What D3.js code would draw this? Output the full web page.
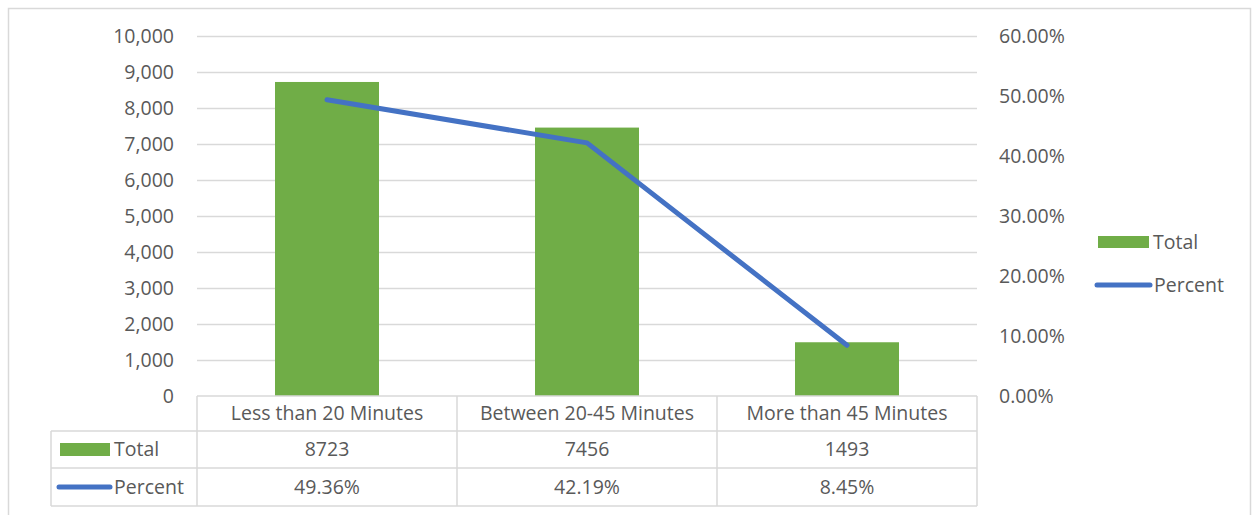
<!DOCTYPE html>
<html><head><meta charset="utf-8">
<script src="https://cdn.jsdelivr.net/npm/d3@7"></script>
<style>body{margin:0;background:#fff}svg{display:block}text{font-family:"Open Sans",sans-serif;fill:#595959}</style>
</head><body><svg id="c" width="1252" height="515"></svg>
<script>
const categories = ["Less than 20 Minutes", "Between 20-45 Minutes", "More than 45 Minutes"];
const totals = [8723, 7456, 1493];
const percents = [0.4936, 0.4219, 0.0845];
const leftTicks = [0,1000,2000,3000,4000,5000,6000,7000,8000,9000,10000];
const rightTicks = [0,0.1,0.2,0.3,0.4,0.5,0.6];
const seriesNames = ["Total", "Percent"];

const green = "#70AD47", blue = "#4472C4", grid = "#D9D9D9";
const svg = d3.select("#c");
const L = 197, R = 977, T = 36, B = 396;
const fs = 19.5;

// outer border
svg.append("path").attr("d", "M8.5,515 V8.5 H1250.5 V515").attr("fill","none").attr("stroke","#D9D9D9").attr("stroke-width",1.5);

const x = d3.scaleBand().domain(categories).range([L, R]).paddingInner(0).paddingOuter(0);
const yL = d3.scaleLinear().domain([0, 10000]).range([B, T]);
const yR = d3.scaleLinear().domain([0, 0.6]).range([B, T]);

// gridlines
svg.append("g").selectAll("line").data(leftTicks.filter(d=>d>0)).join("line")
  .attr("x1", L).attr("x2", R).attr("y1", d=>yL(d)+0.5).attr("y2", d=>yL(d)+0.5)
  .attr("stroke", grid).attr("stroke-width", 1.5);

// left axis
const axL = d3.axisLeft(yL).tickValues(leftTicks).tickFormat(d3.format(",")).tickSize(0).tickPadding(23);
const gL = svg.append("g").attr("transform", `translate(${L},0)`).call(axL);
gL.select(".domain").remove();
gL.selectAll("text").attr("font-size", fs).attr("fill", "#595959").style("font-family","Open Sans");

// right axis
const axR = d3.axisRight(yR).tickValues(rightTicks).tickFormat(d3.format(".2%")).tickSize(0).tickPadding(22);
const gR = svg.append("g").attr("transform", `translate(${R},0)`).call(axR);
gR.select(".domain").remove();
gR.selectAll("text").attr("font-size", fs).attr("fill", "#595959").style("font-family","Open Sans");

// bars
const bw = 104;
svg.append("g").selectAll("rect").data(totals).join("rect")
  .attr("x", (d,i)=>x(categories[i]) + x.bandwidth()/2 - bw/2)
  .attr("width", bw)
  .attr("y", d=>yL(d)).attr("height", d=>B - yL(d))
  .attr("fill", green);

// line
const line = d3.line().x((d,i)=>x(categories[i]) + x.bandwidth()/2).y(d=>yR(d));
svg.append("path").datum(percents).attr("d", line).attr("fill","none")
  .attr("stroke", blue).attr("stroke-width", 5).attr("stroke-linecap","round").attr("stroke-linejoin","round");

// data table
const rows = [396, 431, 468, 506];
const tab = svg.append("g").attr("stroke", "#D9D9D9").attr("stroke-width", 1.5).attr("fill","none");
tab.append("line").attr("x1", L).attr("x2", R).attr("y1", rows[0]).attr("y2", rows[0]);
tab.append("line").attr("x1", 51).attr("x2", R).attr("y1", rows[1]).attr("y2", rows[1]);
tab.append("line").attr("x1", 51).attr("x2", R).attr("y1", rows[2]).attr("y2", rows[2]);
tab.append("line").attr("x1", 51).attr("x2", R).attr("y1", rows[3]).attr("y2", rows[3]);
tab.append("line").attr("x1", 51).attr("x2", 51).attr("y1", rows[1]).attr("y2", rows[3]);
const colEdges = categories.map(c=>x(c)).concat([R]);
colEdges.forEach(e=>tab.append("line").attr("x1", e).attr("x2", e).attr("y1", rows[0]).attr("y2", rows[3]));

const tg = svg.append("g");
categories.forEach((c,i)=>{
  const cx = x(c) + x.bandwidth()/2;
  tg.append("text").attr("x", cx).attr("y", (rows[0]+rows[1])/2).attr("dy","0.35em").attr("text-anchor","middle").attr("font-size", fs).text(c);
  tg.append("text").attr("x", cx).attr("y", (rows[1]+rows[2])/2).attr("dy","0.35em").attr("text-anchor","middle").attr("font-size", fs).text(totals[i]);
  tg.append("text").attr("x", cx).attr("y", (rows[2]+rows[3])/2).attr("dy","0.35em").attr("text-anchor","middle").attr("font-size", fs).text(d3.format(".2%")(percents[i]));
});
// table legend keys
tg.append("rect").attr("x", 60).attr("y", 443).attr("width", 50).attr("height", 13).attr("fill", green);
tg.append("text").attr("x", 114).attr("y", (rows[1]+rows[2])/2).attr("dy","0.35em").attr("font-size", fs).text(seriesNames[0]);
tg.append("line").attr("x1", 59).attr("x2", 110).attr("y1", 487).attr("y2", 487).attr("stroke", blue).attr("stroke-width", 5).attr("stroke-linecap","round");
tg.append("text").attr("x", 114).attr("y", (rows[2]+rows[3])/2).attr("dy","0.35em").attr("font-size", fs).text(seriesNames[1]);

// right legend
const lg = svg.append("g");
lg.append("rect").attr("x", 1098).attr("y", 236).attr("width", 51).attr("height", 12).attr("fill", green);
lg.append("text").attr("x", 1153).attr("y", 242).attr("dy","0.35em").attr("font-size", fs).text(seriesNames[0]);
lg.append("line").attr("x1", 1097).attr("x2", 1150).attr("y1", 285).attr("y2", 285).attr("stroke", blue).attr("stroke-width", 5).attr("stroke-linecap","round");
lg.append("text").attr("x", 1154).attr("y", 285).attr("dy","0.35em").attr("font-size", fs).text(seriesNames[1]);
</script></body></html>
